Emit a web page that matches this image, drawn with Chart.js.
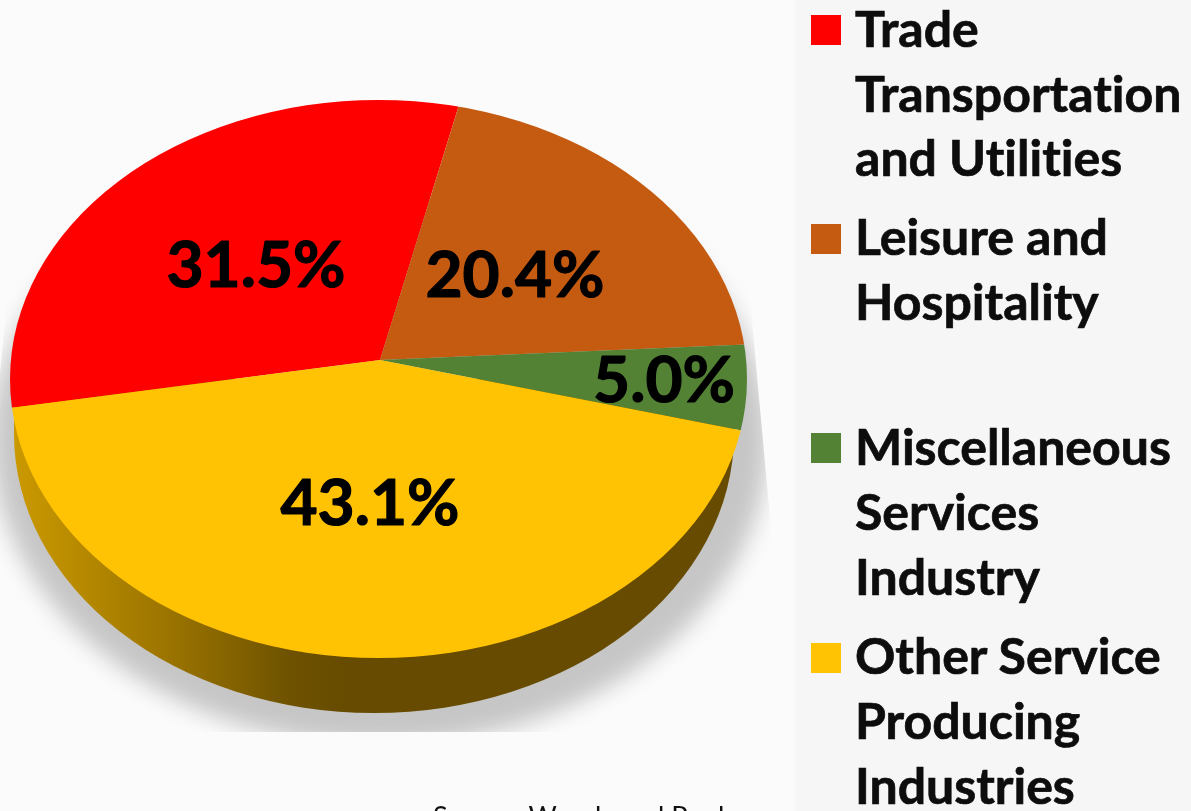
<!DOCTYPE html>
<html><head><meta charset="utf-8">
<script src="https://cdn.jsdelivr.net/npm/chart.js@4"></script>
<style>
html,body{margin:0;padding:0;width:1191px;height:811px;overflow:hidden;background:#fbfbfb}
#panel{position:absolute;left:795px;top:0;width:396px;height:811px;background:#f6f6f6}
canvas{position:absolute;left:0;top:0}
#legend{position:absolute;left:0;top:0;width:1191px;height:811px;font:700 50px/65px Lato,sans-serif;color:#0d0d0d;font-variant-ligatures:none;-webkit-text-stroke:0.7px #0d0d0d}
.t{position:absolute;left:855px;white-space:nowrap}
.b{position:absolute;left:811px;width:30px;height:30px}
#source{position:absolute;left:433px;top:798px;font:400 27.3px/36px Lato,sans-serif;color:#111;white-space:nowrap;font-variant-ligatures:none}
</style></head><body>
<div id="panel"></div>
<canvas id="c" width="1191" height="811"></canvas>
<div id="legend"></div>
<div id="source"></div>
<script>
const categories = ["Trade Transportation and Utilities","Leisure and Hospitality","Miscellaneous Services Industry","Other Service Producing Industries"];
const legendLines = [["Trade","Transportation","and Utilities"],["Leisure and","Hospitality"],["Miscellaneous","Services","Industry"],["Other Service","Producing","Industries"]];
const values = [31.5,20.4,5.0,43.1];
const colors = ["#ff0000","#c55a11","#548235","#ffc303"];
const sourceText = "Source: Woods and Poole";

// layout
const apex={x:380,y:360};
const face={x:378.5,y:379,rx:368.5,ry:279};
const wall={x:374,y:434,rx:360,ry:279};
const wedgeRx=450, wedgeRyTop=346, wedgeRyBottom=331;
const labelCenters=[[256,266],[515,276],[664,381],[370,504]];
const legendTops=[[-4,61,125],[204,269],[414,479,544],[623,688,753]];
const boxTops=[15,224,433,643];

const pie3d={id:'pie3d',
  beforeDatasetsDraw(chart){
    const ctx=chart.ctx;
    // soft drop shadow, cut off as in the picture
    ctx.save();
    ctx.beginPath();ctx.moveTo(12,200);ctx.lineTo(741,200);ctx.lineTo(772,540);ctx.lineTo(772,732);ctx.lineTo(0,732);ctx.lineTo(0,373);ctx.lineTo(7,300);ctx.closePath();ctx.clip();
    ctx.filter='blur(11px)';ctx.fillStyle='#c6c6c6';
    ctx.beginPath();ctx.ellipse(apex.x,440,388,305,0,0,Math.PI*2);ctx.fill();
    ctx.restore();
    // side wall
    ctx.save();
    const g=ctx.createLinearGradient(face.x-face.rx,0,face.x+face.rx,0);
    g.addColorStop(0,'#cc9a00');g.addColorStop(0.2,'#9f7700');g.addColorStop(0.38,'#6e5200');g.addColorStop(0.46,'#664b00');g.addColorStop(1,'#664b00');
    ctx.fillStyle=g;
    ctx.beginPath();
    ctx.moveTo(wall.x-wall.rx,face.y);
    ctx.lineTo(wall.x-wall.rx,wall.y);
    ctx.ellipse(wall.x,wall.y,wall.rx,wall.ry,0,Math.PI,0,true);
    ctx.lineTo(wall.x+wall.rx,face.y);
    ctx.closePath();ctx.fill();
    ctx.restore();
  },
  beforeDatasetDraw(chart,args){
    const ctx=chart.ctx, arcs=args.meta.data, a0=arcs[0], r=a0.outerRadius;
    const W=chart.width,H=chart.height;
    [[0,apex.y,wedgeRyTop],[apex.y,H-apex.y,wedgeRyBottom]].forEach(([top,h,ry])=>{
      ctx.save();
      ctx.beginPath();ctx.ellipse(face.x,face.y,face.rx,face.ry,0,0,Math.PI*2);ctx.clip();
      ctx.beginPath();ctx.rect(0,top,W,h);ctx.clip();
      ctx.translate(apex.x,apex.y);ctx.scale(wedgeRx/r,ry/r);ctx.translate(-a0.x,-a0.y);
      arcs.forEach(a=>a.draw(ctx));
      ctx.restore();
    });
    return false;
  },
  afterDatasetsDraw(chart){
    const ctx=chart.ctx;
    ctx.save();
    ctx.font='700 64px Lato,sans-serif';ctx.fillStyle='#000';ctx.strokeStyle='#000';ctx.lineWidth=1.2;ctx.lineJoin='round';ctx.textAlign='center';ctx.textBaseline='middle';
    values.forEach((v,i)=>{const s=v.toFixed(1)+'%';ctx.fillText(s,labelCenters[i][0],labelCenters[i][1]);ctx.strokeText(s,labelCenters[i][0],labelCenters[i][1]);});
    ctx.restore();
  }
};

new Chart(document.getElementById('c'),{
  type:'pie',
  data:{labels:categories,datasets:[{data:values,backgroundColor:colors,borderWidth:0}]},
  options:{responsive:false,animation:false,rotation:260,
    layout:{padding:{left:10,right:441,top:0,bottom:71}},
    plugins:{legend:{display:false},tooltip:{enabled:false}}},
  plugins:[pie3d]
});

const lg=document.getElementById('legend');
legendLines.forEach((lines,i)=>{
  const b=document.createElement('div');b.className='b';b.style.top=boxTops[i]+'px';b.style.background=colors[i];lg.appendChild(b);
  lines.forEach((s,j)=>{const t=document.createElement('div');t.className='t';t.style.top=legendTops[i][j]+'px';t.textContent=s;lg.appendChild(t);});
});
document.getElementById('source').textContent=sourceText;
</script>
</body></html>
